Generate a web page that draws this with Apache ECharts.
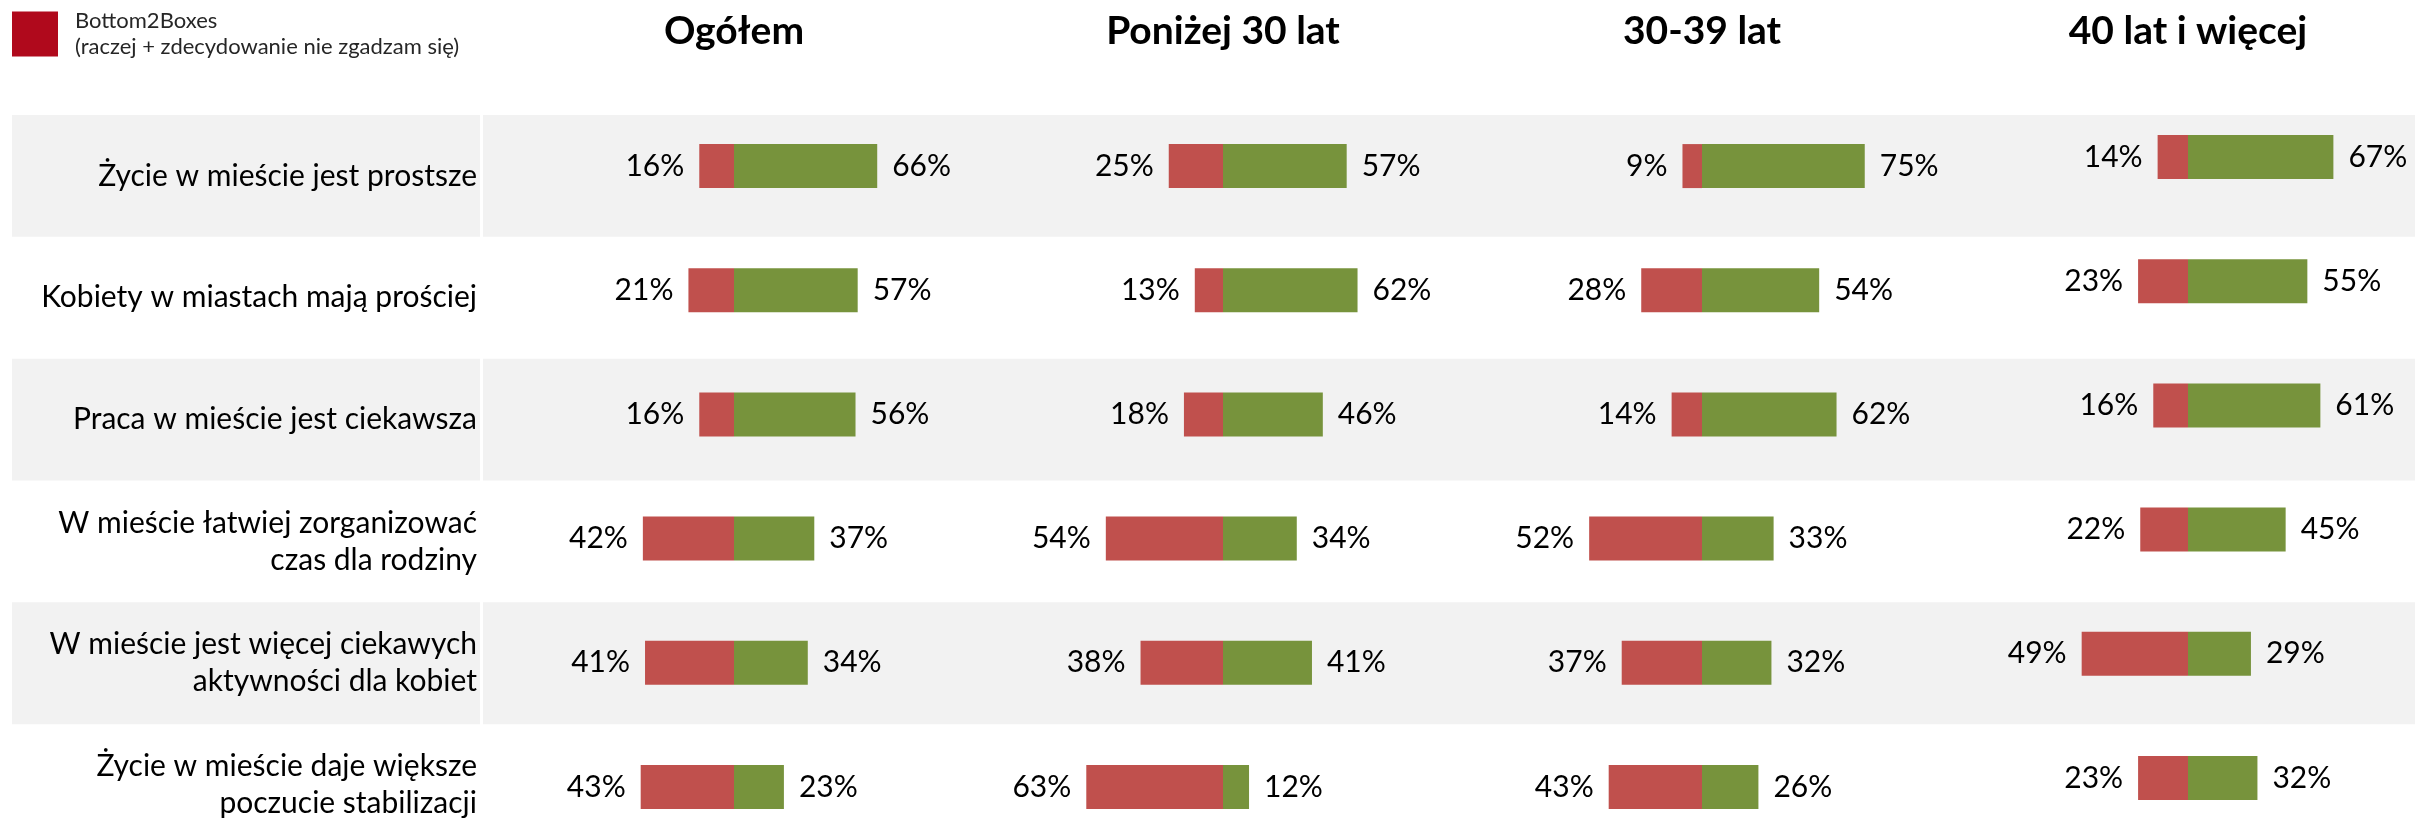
<!DOCTYPE html>
<html>
<head>
<meta charset="utf-8">
<script src="https://cdn.jsdelivr.net/npm/echarts@6/dist/echarts.min.js"></script>
<style>
  html, body { margin: 0; padding: 0; background: #fff; }
  #chart { width: 2415px; height: 819px; }
</style>
</head>
<body>
<div id="chart"></div>
<script>
// statements (rows)
const rowLabels = [
  'Życie w mieście jest prostsze',
  'Kobiety w miastach mają prościej',
  'Praca w mieście jest ciekawsza',
  'W mieście łatwiej zorganizować\nczas dla rodziny',
  'W mieście jest więcej ciekawych\naktywności dla kobiet',
  'Życie w mieście daje większe\npoczucie stabilizacji'
]
// groups (columns)
const groups = ['Ogółem', 'Poniżej 30 lat', '30-39 lat', '40 lat i więcej']
// Bottom2Boxes (red), one array per group
const bottom2 = [
  [16, 21, 16, 42, 41, 43],
  [25, 13, 18, 54, 38, 63],
  [9, 28, 14, 52, 37, 43],
  [14, 23, 16, 22, 49, 23]
]
// Top2Boxes (green), one array per group
const top2 = [
  [66, 57, 56, 37, 34, 23],
  [57, 62, 46, 34, 41, 12],
  [75, 54, 62, 33, 32, 26],
  [67, 55, 61, 45, 29, 32]
]
const legendName = 'Bottom2Boxes\n(raczej + zdecydowanie nie zgadzam się)'
// gray band on every other row
const bandRows = [1, 0, 1, 0, 1, 0]

// layout
const FONT = 'Lato'
const centers = [734, 1223, 1702, 2188]
const barsTop = [104, 104, 104, 95]
const half = 217 // px for 100%

const grids = []
const xAxes = []
const yAxes = []
const series = []

groups.forEach((g, i) => {
  grids.push({
    left: centers[i] - half, width: half * 2, top: barsTop[i], height: 745,
    outerBoundsMode: 'none', containLabel: false
  })
  xAxes.push({
    gridIndex: i,
    type: 'value',
    min: -100,
    max: 100,
    position: 'top',
    name: g,
    nameLocation: 'middle',
    nameGap: barsTop[i] - 51,
    nameTextStyle: { fontFamily: FONT, fontSize: 39, fontWeight: 'bold', color: '#000' },
    axisLine: { show: false },
    axisTick: { show: false },
    axisLabel: { show: false },
    splitLine: { show: false }
  })
  yAxes.push({
    gridIndex: i,
    type: 'category',
    inverse: true,
    data: rowLabels,
    axisLine: { show: false },
    axisTick: { show: false },
    axisLabel: { show: false }
  })
  series.push({
    name: legendName,
    type: 'bar',
    xAxisIndex: i,
    yAxisIndex: i,
    stack: 's' + i,
    barWidth: 44,
    data: bottom2[i].map(v => -v),
    itemStyle: { color: '#c0504d' },
    label: {
      show: true,
      position: 'left',
      distance: 15,
      fontFamily: FONT,
      fontSize: 30,
      color: '#000',
      formatter: p => Math.abs(p.value) + '%'
    }
  })
  series.push({
    name: 'Top2Boxes ' + i,
    type: 'bar',
    xAxisIndex: i,
    yAxisIndex: i,
    stack: 's' + i,
    barWidth: 44,
    data: top2[i],
    itemStyle: { color: '#77933c' },
    label: {
      show: true,
      position: 'right',
      distance: 15,
      fontFamily: FONT,
      fontSize: 30,
      color: '#000',
      formatter: p => p.value + '%'
    }
  })
})

// background bands: label column and the rest
const bgGrids = [
  { left: 12, width: 468, top: 115, height: 731, outerBoundsMode: 'none', containLabel: false },
  { left: 483, right: 0, top: 115, height: 731, outerBoundsMode: 'none', containLabel: false }
]
bgGrids.forEach((bg, k) => {
  const idx = grids.length
  grids.push(bg)
  xAxes.push({ gridIndex: idx, type: 'value', min: 0, max: 1, show: false })
  yAxes.push({
    gridIndex: idx,
    type: 'category',
    inverse: true,
    data: rowLabels,
    z: 10,
    axisLine: { show: false },
    axisTick: { show: false },
    axisLabel: {
      show: k === 1,
      margin: 6,
      fontFamily: FONT,
      fontSize: 30,
      lineHeight: 37,
      color: '#000'
    }
  })
  series.push({
    name: 'band' + k,
    type: 'bar',
    xAxisIndex: idx,
    yAxisIndex: idx,
    silent: true,
    z: 0,
    barWidth: '100%',
    data: bandRows,
    itemStyle: { color: '#f2f2f2' }
  })
})

const chart = echarts.init(document.getElementById('chart'))
chart.setOption({
  animation: false,
  backgroundColor: '#fff',
  legend: {
    left: 12,
    top: 8,
    padding: 0,
    selectedMode: false,
    icon: 'rect',
    itemWidth: 46,
    itemHeight: 45,
    data: [{ name: legendName, itemStyle: { color: '#b0091c' } }],
    textStyle: { fontFamily: FONT, fontSize: 22, lineHeight: 26, color: '#262626', padding: [0, 0, 0, 12] }
  },
  grid: grids,
  xAxis: xAxes,
  yAxis: yAxes,
  series: series
})
</script>
</body>
</html>
